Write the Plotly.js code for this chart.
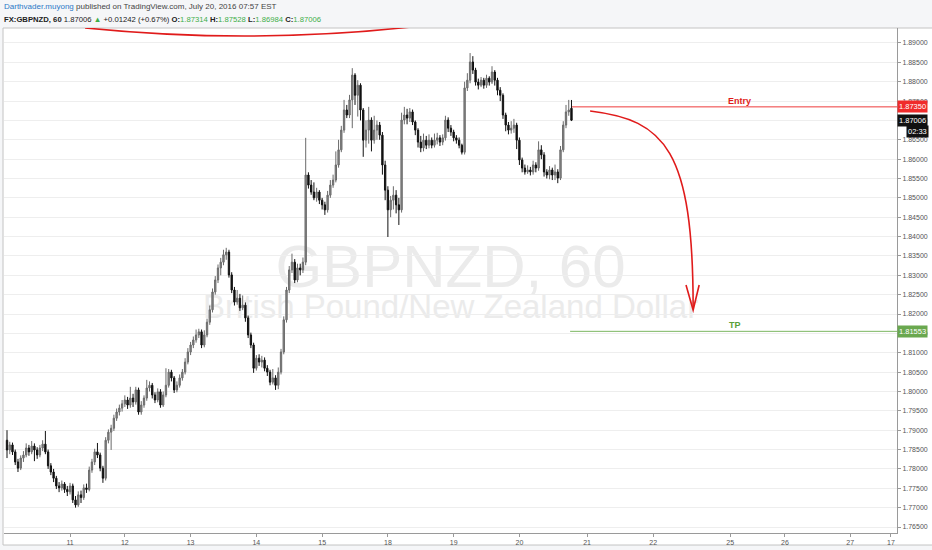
<!DOCTYPE html>
<html>
<head>
<meta charset="utf-8">
<script src="https://cdn.plot.ly/plotly-3.0.1.min.js"></script>
<style>
  html, body { margin: 0; padding: 0; background: #f5f6f8; }
  #chart { width: 932px; height: 550px; }
</style>
</head>
<body>
<div id="chart"></div>
<script>
// GBPNZD 60 min bars (oldest first)
const openPx = [
  1.7874,1.7849,1.7862,1.7844,1.7818,1.7802,1.7828,1.7836,1.7854,1.7844,
  1.7859,1.7849,1.7836,1.7854,1.7864,1.7844,1.7808,1.7792,1.7776,1.7756,
  1.7751,1.7761,1.7747,1.7741,1.7756,1.7720,1.7707,1.7733,1.7726,1.7751,
  1.7747,1.7797,1.7818,1.7844,1.7836,1.7802,1.7776,1.7874,1.7895,1.7905,
  1.7931,1.7947,1.7957,1.7968,1.7978,1.7965,1.7983,1.7973,1.8004,1.7947,
  1.7965,1.7983,1.8009,1.8016,1.7991,1.7978,1.7999,1.7965,1.7991,1.8016,
  1.8050,1.8035,1.8004,1.8016,1.8035,1.8050,1.8076,1.8102,1.8120,1.8133,
  1.8146,1.8154,1.8120,1.8146,1.8179,1.8211,1.8257,1.8288,1.8319,1.8334,
  1.8353,1.8360,1.8301,1.8262,1.8231,1.8241,1.8216,1.8223,1.8190,1.8146,
  1.8120,1.8060,1.8086,1.8076,1.8081,1.8060,1.8050,1.8024,1.8035,1.8016,
  1.8050,1.8102,1.8185,1.8262,1.8314,1.8334,1.8288,1.8319,1.8314,1.8334,
  1.8559,1.8533,1.8515,1.8500,1.8515,1.8494,1.8482,1.8469,1.8507,1.8533,
  1.8546,1.8585,1.8624,1.8675,1.8727,1.8714,1.8753,1.8817,1.8765,1.8791,
  1.8727,1.8649,1.8675,1.8701,1.8649,1.8675,1.8688,1.8662,1.8585,1.8520,
  1.8469,1.8494,1.8507,1.8482,1.8469,1.8701,1.8714,1.8706,1.8722,1.8696,
  1.8675,1.8644,1.8629,1.8649,1.8636,1.8649,1.8636,1.8649,1.8655,1.8644,
  1.8655,1.8701,1.8680,1.8670,1.8655,1.8649,1.8636,1.8618,1.8784,1.8804,
  1.8851,1.8830,1.8799,1.8791,1.8804,1.8791,1.8809,1.8799,1.8825,1.8804,
  1.8778,1.8765,1.8714,1.8688,1.8675,1.8680,1.8688,1.8649,1.8598,1.8577,
  1.8567,1.8572,1.8567,1.8585,1.8577,1.8624,1.8611,1.8567,1.8559,1.8572,
  1.8559,1.8567,1.8551,1.8624,1.8688,1.8722,1.87314
];
const highPx = [
  1.7900,1.7870,1.7868,1.7850,1.7826,1.7835,1.7846,1.7866,1.7862,1.7872,
  1.7866,1.7856,1.7862,1.7874,1.7898,1.7850,1.7815,1.7800,1.7782,1.7766,
  1.7770,1.7766,1.7756,1.7764,1.7762,1.7730,1.7742,1.7744,1.7760,1.7762,
  1.7806,1.7826,1.7852,1.7867,1.7842,1.7808,1.7882,1.7902,1.7914,1.7940,
  1.7956,1.7966,1.7978,1.7990,1.7986,1.8012,1.7994,1.8012,1.8010,1.7975,
  1.7990,1.8030,1.8026,1.8022,1.7998,1.8008,1.8006,1.8000,1.8060,1.8058,
  1.8056,1.8040,1.8026,1.8044,1.8058,1.8086,1.8112,1.8128,1.8142,1.8160,
  1.8162,1.8160,1.8158,1.8188,1.8222,1.8266,1.8298,1.8328,1.8345,1.8366,
  1.8371,1.8366,1.8308,1.8270,1.8262,1.8252,1.8248,1.8230,1.8196,1.8152,
  1.8126,1.8094,1.8096,1.8092,1.8088,1.8068,1.8056,1.8058,1.8042,1.8062,
  1.8110,1.8194,1.8270,1.8324,1.8356,1.8342,1.8330,1.8330,1.8346,1.8655,
  1.8566,1.8546,1.8540,1.8526,1.8520,1.8500,1.8490,1.8518,1.8546,1.8560,
  1.8620,1.8650,1.8686,1.8753,1.8740,1.8766,1.8835,1.8822,1.8804,1.8796,
  1.8732,1.8700,1.8735,1.8708,1.8712,1.8700,1.8696,1.8670,1.8596,1.8530,
  1.8505,1.8530,1.8520,1.8500,1.8720,1.8735,1.8730,1.8732,1.8728,1.8700,
  1.8680,1.8660,1.8666,1.8660,1.8664,1.8656,1.8666,1.8668,1.8662,1.8664,
  1.8712,1.8708,1.8688,1.8676,1.8662,1.8656,1.8640,1.8800,1.8822,1.8874,
  1.8866,1.8836,1.8808,1.8812,1.8810,1.8818,1.8814,1.8840,1.8830,1.8810,
  1.8786,1.8770,1.8720,1.8696,1.8698,1.8704,1.8694,1.8656,1.8604,1.8586,
  1.8584,1.8580,1.8596,1.8592,1.8646,1.8636,1.8618,1.8574,1.8582,1.8578,
  1.8586,1.8574,1.8634,1.8698,1.8740,1.8753,1.87528
];
const lowPx = [
  1.7828,1.7838,1.7836,1.7810,1.7792,1.7797,1.7818,1.7830,1.7834,1.7838,
  1.7820,1.7826,1.7830,1.7846,1.7838,1.7800,1.7784,1.7766,1.7748,1.7740,
  1.7744,1.7738,1.7730,1.7734,1.7712,1.7700,1.7702,1.7712,1.7720,1.7738,
  1.7742,1.7790,1.7810,1.7828,1.7794,1.7764,1.7770,1.7866,1.7849,1.7898,
  1.7924,1.7938,1.7948,1.7960,1.7955,1.7958,1.7960,1.7966,1.7940,1.7940,
  1.7958,1.7976,1.8000,1.7982,1.7970,1.7972,1.7958,1.7960,1.7985,1.8010,
  1.8026,1.7996,1.7998,1.8010,1.8028,1.8044,1.8070,1.8094,1.8112,1.8126,
  1.8138,1.8112,1.8114,1.8140,1.8172,1.8204,1.8250,1.8280,1.8300,1.8326,
  1.8340,1.8294,1.8254,1.8222,1.8224,1.8208,1.8210,1.8180,1.8138,1.8112,
  1.8048,1.8054,1.8066,1.8062,1.8052,1.8040,1.8016,1.8018,1.8004,1.8006,
  1.8044,1.8096,1.8178,1.8254,1.8306,1.8280,1.8282,1.8300,1.8306,1.8326,
  1.8524,1.8508,1.8494,1.8490,1.8484,1.8470,1.8456,1.8462,1.8500,1.8526,
  1.8540,1.8578,1.8618,1.8668,1.8706,1.8706,1.8680,1.8740,1.8710,1.8700,
  1.8606,1.8630,1.8640,1.8620,1.8640,1.8650,1.8650,1.8560,1.8494,1.8399,
  1.8450,1.8470,1.8460,1.8430,1.8462,1.8690,1.8690,1.8696,1.8688,1.8662,
  1.8630,1.8618,1.8620,1.8626,1.8628,1.8628,1.8630,1.8638,1.8634,1.8636,
  1.8648,1.8670,1.8660,1.8646,1.8640,1.8628,1.8612,1.8612,1.8776,1.8796,
  1.8820,1.8790,1.8780,1.8786,1.8782,1.8784,1.8790,1.8794,1.8790,1.8765,
  1.8750,1.8704,1.8672,1.8664,1.8666,1.8668,1.8626,1.8585,1.8566,1.8560,
  1.8562,1.8558,1.8560,1.8566,1.8570,1.8600,1.8555,1.8550,1.8548,1.8546,
  1.8546,1.8538,1.8546,1.8618,1.8680,1.8712,1.86984
];
const closePx = [
  1.7849,1.7862,1.7844,1.7818,1.7802,1.7828,1.7836,1.7854,1.7844,1.7859,
  1.7849,1.7836,1.7854,1.7864,1.7844,1.7808,1.7792,1.7776,1.7756,1.7751,
  1.7761,1.7747,1.7741,1.7756,1.7720,1.7707,1.7733,1.7726,1.7751,1.7747,
  1.7797,1.7818,1.7844,1.7836,1.7802,1.7776,1.7874,1.7895,1.7905,1.7931,
  1.7947,1.7957,1.7968,1.7978,1.7965,1.7983,1.7973,1.8004,1.7947,1.7965,
  1.7983,1.8009,1.8016,1.7991,1.7978,1.7999,1.7965,1.7991,1.8016,1.8050,
  1.8035,1.8004,1.8016,1.8035,1.8050,1.8076,1.8102,1.8120,1.8133,1.8146,
  1.8154,1.8120,1.8146,1.8179,1.8211,1.8257,1.8288,1.8319,1.8334,1.8353,
  1.8360,1.8301,1.8262,1.8231,1.8241,1.8216,1.8223,1.8190,1.8146,1.8120,
  1.8060,1.8086,1.8076,1.8081,1.8060,1.8050,1.8024,1.8035,1.8016,1.8050,
  1.8102,1.8185,1.8262,1.8314,1.8334,1.8288,1.8319,1.8314,1.8334,1.8559,
  1.8533,1.8515,1.8500,1.8515,1.8494,1.8482,1.8469,1.8507,1.8533,1.8546,
  1.8585,1.8624,1.8675,1.8727,1.8714,1.8753,1.8817,1.8765,1.8791,1.8727,
  1.8649,1.8675,1.8701,1.8649,1.8675,1.8688,1.8662,1.8585,1.8520,1.8469,
  1.8494,1.8507,1.8482,1.8469,1.8701,1.8714,1.8706,1.8722,1.8696,1.8675,
  1.8644,1.8629,1.8649,1.8636,1.8649,1.8636,1.8649,1.8655,1.8644,1.8655,
  1.8701,1.8680,1.8670,1.8655,1.8649,1.8636,1.8618,1.8784,1.8804,1.8851,
  1.8830,1.8799,1.8791,1.8804,1.8791,1.8809,1.8799,1.8825,1.8804,1.8778,
  1.8765,1.8714,1.8688,1.8675,1.8680,1.8688,1.8649,1.8598,1.8577,1.8567,
  1.8572,1.8567,1.8585,1.8577,1.8624,1.8611,1.8567,1.8559,1.8572,1.8559,
  1.8567,1.8551,1.8624,1.8688,1.8722,1.8727,1.87006
];

// day labels along the bottom (positions in bar units)
const dayTickPos = [23, 43, 67, 91, 115, 139, 163, 187, 211.7, 235.8, 263.9, 283.9, 307.7, 322.6];
const dayTickText = ['11', '12', '13', '14', '15', '18', '19', '20', '21', '22', '25', '26', '27', '17'];

// trade idea levels
const entryLevel = 1.8735;
const tpLevel = 1.81553;
const lastPrice = 1.87006;

const UP = '#8a8a8a';
const DOWN = '#111111';
const FONT = "'Liberation Sans', Arial, sans-serif";
const WATERMARK = '#ebebeb';

const barIdx = closePx.map((_, i) => i);

const candles = {
    type: 'candlestick',
    x: barIdx,
    open: openPx, high: highPx, low: lowPx, close: closePx,
    increasing: { line: { color: '#6a6a6a', width: 1 }, fillcolor: UP },
    decreasing: { line: { color: DOWN, width: 1 }, fillcolor: DOWN },
    whiskerwidth: 0,
    hoverinfo: 'skip',
    showlegend: false
};

const fmt = v => v.toFixed(5);

const header1 = "<span style='color:#2d79c7'>Darthvader.muyong</span>" +
    "<span style='color:#444'> published on TradingView.com, July 20, 2016 07:57 EST</span>";
const green = s => "<span style='color:#3fae49'>" + s + "</span>";
const header2 = "<b>FX:GBPNZD, 60</b> " + fmt(lastPrice) + " " + green('▲') +
    " +0.01242 (+0.67%) <b>O:</b>" + green('1.87314') + " <b>H:</b>" + green('1.87528') +
    " <b>L:</b>" + green('1.86984') + " <b>C:</b>" + green('1.87006');

const axisTag = (y, text, bg, extra) => Object.assign({
    xref: 'paper', yref: 'y', x: 1.0, y: y, xanchor: 'left', yanchor: 'middle',
    text: text, showarrow: false, bgcolor: bg, borderpad: 1,
    font: { family: FONT, size: 7.5, color: '#ffffff' }
}, extra || {});

// watermark as labelled empty shapes so it sits under the candles
const watermark = (y, text, size) => ({
    type: 'rect', xref: 'paper', yref: 'y', x0: 0.2, x1: 0.8, y0: y - 0.001, y1: y + 0.001,
    line: { width: 0 }, fillcolor: 'rgba(0,0,0,0)', layer: 'between',
    label: { text: text, textposition: 'middle center', font: { family: FONT, size: size, color: WATERMARK } }
});

const layout = {
    width: 932, height: 550,
    margin: { l: 4, r: 35, t: 28, b: 17 },
    paper_bgcolor: '#f5f6f8',
    plot_bgcolor: '#ffffff',
    font: { family: FONT, color: '#555' },
    xaxis: {
        type: 'linear',
        range: [-1.1, 324.8],
        rangeslider: { visible: false },
        showgrid: false, zeroline: false,
        showline: true, linecolor: '#9a9a9a', mirror: false,
        tickmode: 'array', tickvals: dayTickPos, ticktext: dayTickText,
        ticks: 'outside', ticklen: 3, tickcolor: '#9a9a9a',
        tickfont: { size: 7, color: '#555' }
    },
    yaxis: {
        side: 'right',
        range: [1.76345, 1.89387],
        dtick: 0.005, tick0: 1.765, tickformat: '.5f',
        showgrid: true, gridcolor: '#eeeeee', zeroline: false,
        showline: true, linecolor: '#9a9a9a',
        ticks: 'outside', ticklen: 3, tickcolor: '#9a9a9a',
        tickfont: { size: 7, color: '#555' }
    },
    shapes: [
        // white chart frame including the axis strips
        { type: 'rect', xref: 'paper', yref: 'paper', x0: -0.0011, x1: 1.04, y0: -0.0238, y1: 1.0,
          fillcolor: '#ffffff', line: { color: '#c4c4c4', width: 1 }, layer: 'below' },
        watermark(1.8337, 'GBPNZD, 60', 60),
        watermark(1.8228, 'British Pound/New Zealand Dollar', 33),
        // entry and target lines
        { type: 'line', xref: 'x', yref: 'y', x0: 206.2, x1: 324.8, y0: entryLevel, y1: entryLevel,
          line: { color: '#ee3b3b', width: 1 } },
        { type: 'line', xref: 'x', yref: 'y', x0: 205.5, x1: 324.8, y0: tpLevel, y1: tpLevel,
          line: { color: '#7bb661', width: 1 } },
        // hand drawn arc near the top
        { type: 'path', xref: 'x', yref: 'y',
          path: 'M 28.5,1.8939 Q 88,1.8896 147,1.8941',
          line: { color: '#e01b1b', width: 1.6 } },
        // curved arrow towards TP
        { type: 'path', xref: 'x', yref: 'y',
          path: 'M 212.8,1.87244 C 240.2,1.87011 250.4,1.86237 250.4,1.82156',
          line: { color: '#e01b1b', width: 1.6 } },
        { type: 'path', xref: 'x', yref: 'y',
          path: 'M 247.8,1.82750 L 250.4,1.82104 L 252.6,1.82750',
          line: { color: '#e01b1b', width: 1.6 } }
    ],
    annotations: [
        // header
        { xref: 'paper', yref: 'paper', x: -0.002, y: 1.0416, xanchor: 'left', yanchor: 'middle',
          text: header1, showarrow: false, font: { family: FONT, size: 8, color: '#444' } },
        { xref: 'paper', yref: 'paper', x: -0.002, y: 1.0178, xanchor: 'left', yanchor: 'middle',
          text: header2, showarrow: false, font: { family: FONT, size: 7.7, color: '#222' } },
        // level labels
        { xref: 'x', yref: 'y', x: 267.5, y: entryLevel, yanchor: 'bottom', yshift: -1, text: '<b>Entry</b>',
          showarrow: false, font: { family: FONT, size: 9, color: '#e01b1b' } },
        { xref: 'x', yref: 'y', x: 265.7, y: tpLevel, yanchor: 'bottom', yshift: -1, text: '<b>TP</b>',
          showarrow: false, font: { family: FONT, size: 9, color: '#5a9e3a' } },
        // price tags on the axis
        axisTag(entryLevel, fmt(entryLevel), '#f02b2b'),
        axisTag(lastPrice, fmt(lastPrice), '#111111'),
        axisTag(lastPrice, '02:33', '#111111', { x: 1.0358, xanchor: 'right', yshift: -11 }),
        axisTag(tpLevel, fmt(tpLevel), '#6aa84f')
    ]
};

Plotly.newPlot('chart', [candles], layout, { displayModeBar: false, staticPlot: true });
</script>
</body>
</html>
